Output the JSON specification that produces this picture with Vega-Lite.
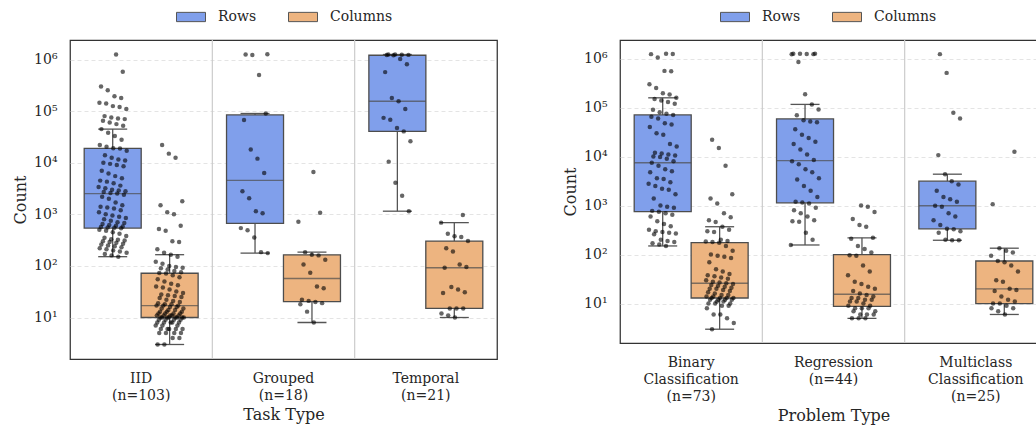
{
  "$schema": "https://vega.github.io/schema/vega-lite/v6.json",
  "padding": {"left": 11, "right": 0, "top": 1, "bottom": 5},
  "spacing": 63,
  "config": {
    "font": "DejaVu Serif",
    "view": {"stroke": "#333333", "strokeWidth": 1.25},
    "axis": {"labelFont": "DejaVu Serif", "titleFont": "DejaVu Serif", "labelFontSize": 14, "titleFontSize": 16, "labelColor": "#262626", "titleColor": "#262626", "titleFontWeight": "normal", "ticks": false, "domain": false},
    "legend": {"labelFont": "DejaVu Serif", "labelFontSize": 14, "labelColor": "#262626"}
  },
  "datasets": {
    "task": [
      {"group":"IID","Rows":1250000,"Columns":22000},{"group":"IID","Rows":580000,"Columns":15000},{"group":"IID","Rows":300000,"Columns":12500},{"group":"IID","Rows":255000,"Columns":1800},{"group":"IID","Rows":195000,"Columns":1500},{"group":"IID","Rows":180000,"Columns":1100},{"group":"IID","Rows":145000,"Columns":1000},{"group":"IID","Rows":140000,"Columns":600},{"group":"IID","Rows":125000,"Columns":520},{"group":"IID","Rows":120000,"Columns":480},
      {"group":"IID","Rows":110000,"Columns":300},{"group":"IID","Rows":80000,"Columns":290},{"group":"IID","Rows":75000,"Columns":210},{"group":"IID","Rows":72000,"Columns":180},{"group":"IID","Rows":70000,"Columns":165},{"group":"IID","Rows":65000,"Columns":150},{"group":"IID","Rows":60000,"Columns":120},{"group":"IID","Rows":56000,"Columns":110},{"group":"IID","Rows":52000,"Columns":100},{"group":"IID","Rows":44800,"Columns":95},
      {"group":"IID","Rows":38000,"Columns":92},{"group":"IID","Rows":33000,"Columns":90},{"group":"IID","Rows":28000,"Columns":85},{"group":"IID","Rows":22000,"Columns":80},{"group":"IID","Rows":20500,"Columns":75},{"group":"IID","Rows":19000,"Columns":73},{"group":"IID","Rows":18800,"Columns":71},{"group":"IID","Rows":17000,"Columns":66},{"group":"IID","Rows":14000,"Columns":60},{"group":"IID","Rows":12500,"Columns":55},
      {"group":"IID","Rows":11500,"Columns":50},{"group":"IID","Rows":11000,"Columns":45},{"group":"IID","Rows":10000,"Columns":42},{"group":"IID","Rows":9500,"Columns":40},{"group":"IID","Rows":9000,"Columns":38},{"group":"IID","Rows":8500,"Columns":35},{"group":"IID","Rows":7000,"Columns":32},{"group":"IID","Rows":6200,"Columns":30},{"group":"IID","Rows":5500,"Columns":28},{"group":"IID","Rows":5000,"Columns":27},
      {"group":"IID","Rows":4500,"Columns":26},{"group":"IID","Rows":4300,"Columns":25},{"group":"IID","Rows":4000,"Columns":24},{"group":"IID","Rows":3600,"Columns":22},{"group":"IID","Rows":3400,"Columns":21},{"group":"IID","Rows":3200,"Columns":20},{"group":"IID","Rows":3000,"Columns":19},{"group":"IID","Rows":2900,"Columns":18},{"group":"IID","Rows":2800,"Columns":18},{"group":"IID","Rows":2700,"Columns":17},
      {"group":"IID","Rows":2600,"Columns":17},{"group":"IID","Rows":2520,"Columns":17},{"group":"IID","Rows":2400,"Columns":16},{"group":"IID","Rows":2200,"Columns":16},{"group":"IID","Rows":2000,"Columns":15},{"group":"IID","Rows":1700,"Columns":15},{"group":"IID","Rows":1500,"Columns":14},{"group":"IID","Rows":1400,"Columns":14},{"group":"IID","Rows":1350,"Columns":13},{"group":"IID","Rows":1300,"Columns":13},
      {"group":"IID","Rows":1200,"Columns":13},{"group":"IID","Rows":1100,"Columns":12},{"group":"IID","Rows":1000,"Columns":12},{"group":"IID","Rows":950,"Columns":12},{"group":"IID","Rows":900,"Columns":12},{"group":"IID","Rows":850,"Columns":11},{"group":"IID","Rows":800,"Columns":11},{"group":"IID","Rows":750,"Columns":11},{"group":"IID","Rows":700,"Columns":11},{"group":"IID","Rows":680,"Columns":11},
      {"group":"IID","Rows":650,"Columns":10},{"group":"IID","Rows":620,"Columns":10},{"group":"IID","Rows":600,"Columns":10},{"group":"IID","Rows":580,"Columns":10},{"group":"IID","Rows":570,"Columns":10},{"group":"IID","Rows":555,"Columns":10},{"group":"IID","Rows":548,"Columns":10},{"group":"IID","Rows":536,"Columns":10},{"group":"IID","Rows":500,"Columns":9},{"group":"IID","Rows":480,"Columns":9},
      {"group":"IID","Rows":450,"Columns":9},{"group":"IID","Rows":420,"Columns":9},{"group":"IID","Rows":380,"Columns":8},{"group":"IID","Rows":350,"Columns":8},{"group":"IID","Rows":330,"Columns":8},{"group":"IID","Rows":320,"Columns":8},{"group":"IID","Rows":310,"Columns":8},{"group":"IID","Rows":300,"Columns":7},{"group":"IID","Rows":290,"Columns":7},{"group":"IID","Rows":280,"Columns":7},
      {"group":"IID","Rows":270,"Columns":6},{"group":"IID","Rows":260,"Columns":6},{"group":"IID","Rows":250,"Columns":6},{"group":"IID","Rows":240,"Columns":6},{"group":"IID","Rows":230,"Columns":6},{"group":"IID","Rows":220,"Columns":5},{"group":"IID","Rows":210,"Columns":5},{"group":"IID","Rows":200,"Columns":5},{"group":"IID","Rows":190,"Columns":5},{"group":"IID","Rows":180,"Columns":4},
      {"group":"IID","Rows":170,"Columns":4},{"group":"IID","Rows":160,"Columns":3},{"group":"IID","Rows":151,"Columns":3},
      {"group":"Grouped","Rows":1260000,"Columns":6600},{"group":"Grouped","Rows":1250000,"Columns":1070},{"group":"Grouped","Rows":1220000,"Columns":720},{"group":"Grouped","Rows":500000,"Columns":185},{"group":"Grouped","Rows":90000,"Columns":165},{"group":"Grouped","Rows":67000,"Columns":160},{"group":"Grouped","Rows":18000,"Columns":132},{"group":"Grouped","Rows":12000,"Columns":106},{"group":"Grouped","Rows":6300,"Columns":74},
      {"group":"Grouped","Rows":2800,"Columns":40},{"group":"Grouped","Rows":2040,"Columns":37},{"group":"Grouped","Rows":1150,"Columns":22},{"group":"Grouped","Rows":1050,"Columns":21},{"group":"Grouped","Rows":540,"Columns":20},{"group":"Grouped","Rows":490,"Columns":19},{"group":"Grouped","Rows":355,"Columns":18},{"group":"Grouped","Rows":185,"Columns":13},{"group":"Grouped","Rows":177,"Columns":8},
      {"group":"Temporal","Rows":1250000,"Columns":970},{"group":"Temporal","Rows":1250000,"Columns":690},{"group":"Temporal","Rows":1240000,"Columns":420},{"group":"Temporal","Rows":1230000,"Columns":375},{"group":"Temporal","Rows":1220000,"Columns":365},{"group":"Temporal","Rows":1210000,"Columns":303},{"group":"Temporal","Rows":1020000,"Columns":220},
      {"group":"Temporal","Rows":810000,"Columns":190},{"group":"Temporal","Rows":570000,"Columns":107},{"group":"Temporal","Rows":180000,"Columns":95},{"group":"Temporal","Rows":155000,"Columns":92},{"group":"Temporal","Rows":110000,"Columns":39},{"group":"Temporal","Rows":74000,"Columns":35},{"group":"Temporal","Rows":68000,"Columns":31},
      {"group":"Temporal","Rows":47000,"Columns":30},{"group":"Temporal","Rows":40500,"Columns":15},{"group":"Temporal","Rows":26000,"Columns":15},{"group":"Temporal","Rows":10500,"Columns":15},{"group":"Temporal","Rows":4100,"Columns":12},{"group":"Temporal","Rows":2300,"Columns":11},{"group":"Temporal","Rows":1150,"Columns":10}
    ],
    "problem": [
      {"group":"Binary Classification","Rows":1250000,"Columns":22000},{"group":"Binary Classification","Rows":1240000,"Columns":15000},{"group":"Binary Classification","Rows":1230000,"Columns":6500},{"group":"Binary Classification","Rows":1050000,"Columns":1700},{"group":"Binary Classification","Rows":560000,"Columns":1400},{"group":"Binary Classification","Rows":550000,"Columns":1100},{"group":"Binary Classification","Rows":300000,"Columns":700},{"group":"Binary Classification","Rows":250000,"Columns":580},{"group":"Binary Classification","Rows":195000,"Columns":500},{"group":"Binary Classification","Rows":185000,"Columns":460},
      {"group":"Binary Classification","Rows":158000,"Columns":370},{"group":"Binary Classification","Rows":150000,"Columns":320},{"group":"Binary Classification","Rows":140000,"Columns":300},{"group":"Binary Classification","Rows":130000,"Columns":290},{"group":"Binary Classification","Rows":120000,"Columns":200},{"group":"Binary Classification","Rows":90000,"Columns":190},{"group":"Binary Classification","Rows":80000,"Columns":185},{"group":"Binary Classification","Rows":75000,"Columns":180},{"group":"Binary Classification","Rows":70800,"Columns":175},{"group":"Binary Classification","Rows":65000,"Columns":150},
      {"group":"Binary Classification","Rows":60000,"Columns":120},{"group":"Binary Classification","Rows":48000,"Columns":100},{"group":"Binary Classification","Rows":45000,"Columns":95},{"group":"Binary Classification","Rows":40000,"Columns":90},{"group":"Binary Classification","Rows":30000,"Columns":85},{"group":"Binary Classification","Rows":28000,"Columns":70},{"group":"Binary Classification","Rows":18000,"Columns":50},{"group":"Binary Classification","Rows":16000,"Columns":45},{"group":"Binary Classification","Rows":12000,"Columns":40},{"group":"Binary Classification","Rows":11500,"Columns":38},
      {"group":"Binary Classification","Rows":11000,"Columns":36},{"group":"Binary Classification","Rows":10500,"Columns":34},{"group":"Binary Classification","Rows":10000,"Columns":32},{"group":"Binary Classification","Rows":9800,"Columns":30},{"group":"Binary Classification","Rows":9000,"Columns":28},{"group":"Binary Classification","Rows":8000,"Columns":27},{"group":"Binary Classification","Rows":7500,"Columns":26},{"group":"Binary Classification","Rows":6500,"Columns":25},{"group":"Binary Classification","Rows":5500,"Columns":24},{"group":"Binary Classification","Rows":5000,"Columns":23},
      {"group":"Binary Classification","Rows":4800,"Columns":22},{"group":"Binary Classification","Rows":3600,"Columns":21},{"group":"Binary Classification","Rows":3500,"Columns":20},{"group":"Binary Classification","Rows":3000,"Columns":20},{"group":"Binary Classification","Rows":2800,"Columns":19},{"group":"Binary Classification","Rows":2500,"Columns":18},{"group":"Binary Classification","Rows":2200,"Columns":17},{"group":"Binary Classification","Rows":2100,"Columns":16},{"group":"Binary Classification","Rows":1700,"Columns":15},{"group":"Binary Classification","Rows":1400,"Columns":15},
      {"group":"Binary Classification","Rows":1000,"Columns":14},{"group":"Binary Classification","Rows":950,"Columns":14},{"group":"Binary Classification","Rows":900,"Columns":13},{"group":"Binary Classification","Rows":780,"Columns":13},{"group":"Binary Classification","Rows":750,"Columns":13},{"group":"Binary Classification","Rows":700,"Columns":13},{"group":"Binary Classification","Rows":650,"Columns":12},{"group":"Binary Classification","Rows":600,"Columns":12},{"group":"Binary Classification","Rows":480,"Columns":12},{"group":"Binary Classification","Rows":420,"Columns":12},
      {"group":"Binary Classification","Rows":380,"Columns":11},{"group":"Binary Classification","Rows":320,"Columns":11},{"group":"Binary Classification","Rows":300,"Columns":10},{"group":"Binary Classification","Rows":290,"Columns":10},{"group":"Binary Classification","Rows":280,"Columns":10},{"group":"Binary Classification","Rows":270,"Columns":9},{"group":"Binary Classification","Rows":260,"Columns":9},{"group":"Binary Classification","Rows":200,"Columns":8},{"group":"Binary Classification","Rows":190,"Columns":6},{"group":"Binary Classification","Rows":180,"Columns":6},
      {"group":"Binary Classification","Rows":170,"Columns":5},{"group":"Binary Classification","Rows":160,"Columns":4},{"group":"Binary Classification","Rows":150,"Columns":3},
      {"group":"Regression","Rows":1260000,"Columns":1000},{"group":"Regression","Rows":1250000,"Columns":950},{"group":"Regression","Rows":1250000,"Columns":740},{"group":"Regression","Rows":1240000,"Columns":530},{"group":"Regression","Rows":1230000,"Columns":400},{"group":"Regression","Rows":1220000,"Columns":370},{"group":"Regression","Rows":850000,"Columns":220},{"group":"Regression","Rows":187000,"Columns":210},{"group":"Regression","Rows":116000,"Columns":150},{"group":"Regression","Rows":91000,"Columns":130},{"group":"Regression","Rows":70000,"Columns":110},
      {"group":"Regression","Rows":55000,"Columns":97},{"group":"Regression","Rows":52000,"Columns":95},{"group":"Regression","Rows":50000,"Columns":60},{"group":"Regression","Rows":36000,"Columns":45},{"group":"Regression","Rows":28000,"Columns":38},{"group":"Regression","Rows":24000,"Columns":28},{"group":"Regression","Rows":20000,"Columns":25},{"group":"Regression","Rows":18000,"Columns":22},{"group":"Regression","Rows":14000,"Columns":20},{"group":"Regression","Rows":11000,"Columns":18},
      {"group":"Regression","Rows":8500,"Columns":16},{"group":"Regression","Rows":8000,"Columns":15},{"group":"Regression","Rows":7000,"Columns":14},{"group":"Regression","Rows":5500,"Columns":13},{"group":"Regression","Rows":4800,"Columns":13},{"group":"Regression","Rows":3600,"Columns":12},{"group":"Regression","Rows":3400,"Columns":12},{"group":"Regression","Rows":2500,"Columns":11},{"group":"Regression","Rows":2000,"Columns":11},{"group":"Regression","Rows":1500,"Columns":10},{"group":"Regression","Rows":1200,"Columns":9},
      {"group":"Regression","Rows":1150,"Columns":9},{"group":"Regression","Rows":1100,"Columns":8},{"group":"Regression","Rows":900,"Columns":8},{"group":"Regression","Rows":800,"Columns":8},{"group":"Regression","Rows":700,"Columns":7},{"group":"Regression","Rows":600,"Columns":7},{"group":"Regression","Rows":500,"Columns":6},{"group":"Regression","Rows":480,"Columns":6},{"group":"Regression","Rows":470,"Columns":6},{"group":"Regression","Rows":280,"Columns":5},{"group":"Regression","Rows":200,"Columns":5},{"group":"Regression","Rows":157,"Columns":5},
      {"group":"Multiclass Classification","Rows":1230000,"Columns":12600},{"group":"Multiclass Classification","Rows":510000,"Columns":1070},{"group":"Multiclass Classification","Rows":78000,"Columns":135},{"group":"Multiclass Classification","Rows":60000,"Columns":120},{"group":"Multiclass Classification","Rows":10700,"Columns":110},{"group":"Multiclass Classification","Rows":4370,"Columns":95},{"group":"Multiclass Classification","Rows":3140,"Columns":74},{"group":"Multiclass Classification","Rows":2700,"Columns":70},{"group":"Multiclass Classification","Rows":2000,"Columns":60},
      {"group":"Multiclass Classification","Rows":1500,"Columns":45},{"group":"Multiclass Classification","Rows":1350,"Columns":30},{"group":"Multiclass Classification","Rows":1200,"Columns":28},{"group":"Multiclass Classification","Rows":995,"Columns":20},{"group":"Multiclass Classification","Rows":950,"Columns":19},{"group":"Multiclass Classification","Rows":700,"Columns":18},{"group":"Multiclass Classification","Rows":600,"Columns":14},{"group":"Multiclass Classification","Rows":500,"Columns":12},
      {"group":"Multiclass Classification","Rows":400,"Columns":11},{"group":"Multiclass Classification","Rows":336,"Columns":10},{"group":"Multiclass Classification","Rows":330,"Columns":10},{"group":"Multiclass Classification","Rows":300,"Columns":9},{"group":"Multiclass Classification","Rows":280,"Columns":8},{"group":"Multiclass Classification","Rows":200,"Columns":8},{"group":"Multiclass Classification","Rows":197,"Columns":7},{"group":"Multiclass Classification","Rows":196,"Columns":6}
    ]
  },
  "hconcat": [
    {
      "width": 427, "height": 319,
      "data": {"name": "task"},
      "transform": [
        {"fold": ["Rows", "Columns"], "as": ["type", "count"]},
        {"window": [{"op": "row_number", "as": "rn"}]},
        {"calculate": "(datum.type == 'Rows' ? 0.3 : 0.7) + ((datum.rn * 0.618034) % 1 - 0.5) * 0.2", "as": "jit"}
      ],
      "encoding": {
        "x": {"field": "group", "type": "nominal", "sort": ["IID", "Grouped", "Temporal"], "scale": {"paddingInner": 0, "paddingOuter": 0}, "title": "Task Type",
              "axis": {"labelAngle": 0, "labelPadding": 12, "titlePadding": 4, "labelLineHeight": 17, "grid": false,
                       "labelExpr": "datum.label == 'IID' ? ['IID', '(n=103)'] : datum.label == 'Grouped' ? ['Grouped', '(n=18)'] : ['Temporal', '(n=21)']"}},
        "y": {"field": "count", "type": "quantitative", "title": "Count",
              "scale": {"type": "log", "domain": [1.57, 2390000], "nice": false},
              "axis": {"values": [10, 100, 1000, 10000, 100000, 1000000], "labelPadding": 13, "titlePadding": 5, "grid": true, "gridColor": "#dddddd", "gridDash": [4, 3], "gridWidth": 0.8,
                       "labelExpr": "'10' + ['⁰','¹','²','³','⁴','⁵','⁶','⁷'][round(log(datum.value) / LN10)]"}}
      },
      "layer": [
        {
          "transform": [{"aggregate": [{"op": "count", "as": "n"}], "groupby": ["group"]}, {"filter": "datum.group != 'IID'"}],
          "mark": {"type": "rule", "color": "#cccccc", "strokeWidth": 1.2},
          "encoding": {"x": {"field": "group", "type": "nominal", "bandPosition": 0}, "y": null}
        },
        {
          "mark": {"type": "boxplot", "extent": 1.5, "size": 57, "outliers": false,
                   "box": {"stroke": "#4d4d4d", "strokeWidth": 1.3},
                   "median": {"color": "#4d4d4d", "thickness": 1.4},
                   "rule": {"color": "#555555", "strokeWidth": 1.3},
                   "ticks": {"color": "#555555", "size": 29, "thickness": 1.3}},
          "encoding": {
            "xOffset": {"field": "type", "type": "nominal", "scale": {"domain": ["Rows", "Columns"], "paddingOuter": 0.25, "paddingInner": 0}},
            "color": {"field": "type", "type": "nominal", "scale": {"domain": ["Rows", "Columns"], "range": ["#809FEB", "#EDB480"]},
                      "legend": {"title": null, "orient": "none", "direction": "horizontal", "legendX": 106, "legendY": -38, "padding": 0,
                                 "symbolType": "M-1,-0.32H1V0.32H-1Z", "symbolSize": 841, "symbolStrokeColor": "#555555", "symbolStrokeWidth": 1, "symbolOpacity": 1,
                                 "labelOffset": 12, "columnPadding": 29}}
          }
        },
        {
          "mark": {"type": "circle", "color": "#000000", "opacity": 0.6, "size": 20},
          "encoding": {
            "xOffset": {"field": "jit", "type": "quantitative", "scale": {"domain": [0, 1]}}
          }
        }
      ],
      "resolve": {"scale": {"xOffset": "independent"}}
    },
    {
      "width": 427, "height": 303,
      "data": {"name": "problem"},
      "transform": [
        {"fold": ["Rows", "Columns"], "as": ["type", "count"]},
        {"window": [{"op": "row_number", "as": "rn"}]},
        {"calculate": "(datum.type == 'Rows' ? 0.3 : 0.7) + ((datum.rn * 0.618034) % 1 - 0.5) * 0.2", "as": "jit"}
      ],
      "encoding": {
        "x": {"field": "group", "type": "nominal", "sort": ["Binary Classification", "Regression", "Multiclass Classification"], "scale": {"paddingInner": 0, "paddingOuter": 0}, "title": "Problem Type",
              "axis": {"labelAngle": 0, "labelPadding": 12, "titlePadding": 4, "labelLineHeight": 17, "grid": false,
                       "labelExpr": "datum.label == 'Binary Classification' ? ['Binary', 'Classification', '(n=73)'] : datum.label == 'Regression' ? ['Regression', '(n=44)'] : ['Multiclass', 'Classification', '(n=25)']"}},
        "y": {"field": "count", "type": "quantitative", "title": "Count",
              "scale": {"type": "log", "domain": [1.57, 2390000], "nice": false},
              "axis": {"values": [10, 100, 1000, 10000, 100000, 1000000], "labelPadding": 13, "titlePadding": 5, "grid": true, "gridColor": "#dddddd", "gridDash": [4, 3], "gridWidth": 0.8,
                       "labelExpr": "'10' + ['⁰','¹','²','³','⁴','⁵','⁶','⁷'][round(log(datum.value) / LN10)]"}}
      },
      "layer": [
        {
          "transform": [{"aggregate": [{"op": "count", "as": "n"}], "groupby": ["group"]}, {"filter": "datum.group != 'Binary Classification'"}],
          "mark": {"type": "rule", "color": "#cccccc", "strokeWidth": 1.2},
          "encoding": {"x": {"field": "group", "type": "nominal", "bandPosition": 0}, "y": null}
        },
        {
          "mark": {"type": "boxplot", "extent": 1.5, "size": 57, "outliers": false,
                   "box": {"stroke": "#4d4d4d", "strokeWidth": 1.3},
                   "median": {"color": "#4d4d4d", "thickness": 1.4},
                   "rule": {"color": "#555555", "strokeWidth": 1.3},
                   "ticks": {"color": "#555555", "size": 29, "thickness": 1.3}},
          "encoding": {
            "xOffset": {"field": "type", "type": "nominal", "scale": {"domain": ["Rows", "Columns"], "paddingOuter": 0.25, "paddingInner": 0}},
            "color": {"field": "type", "type": "nominal", "scale": {"domain": ["Rows", "Columns"], "range": ["#809FEB", "#EDB480"]},
                      "legend": {"title": null, "orient": "none", "direction": "horizontal", "legendX": 100, "legendY": -38, "padding": 0,
                                 "symbolType": "M-1,-0.32H1V0.32H-1Z", "symbolSize": 841, "symbolStrokeColor": "#555555", "symbolStrokeWidth": 1, "symbolOpacity": 1,
                                 "labelOffset": 12, "columnPadding": 29}}
          }
        },
        {
          "mark": {"type": "circle", "color": "#000000", "opacity": 0.6, "size": 20},
          "encoding": {
            "xOffset": {"field": "jit", "type": "quantitative", "scale": {"domain": [0, 1]}}
          }
        }
      ],
      "resolve": {"scale": {"xOffset": "independent"}}
    }
  ],
  "resolve": {"legend": {"color": "independent"}}
}
